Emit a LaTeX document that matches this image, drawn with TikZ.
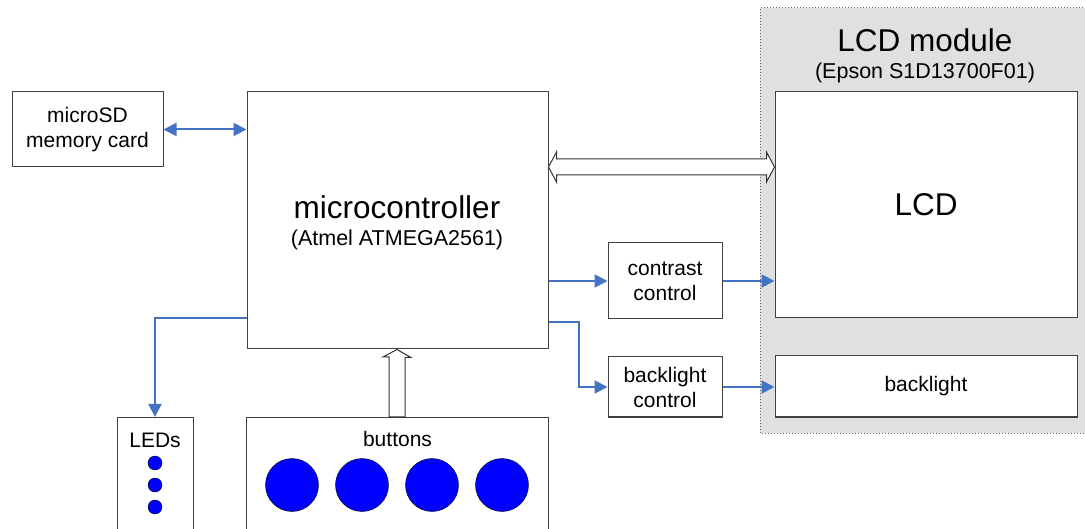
\documentclass[tikz,border=0pt]{standalone}
\usepackage{fontspec}
\setmainfont{Liberation Sans}
\usetikzlibrary{arrows.meta,calc}
\definecolor{linkblue}{RGB}{68,114,196}
\definecolor{keyblue}{RGB}{0,0,255}

\begin{document}
\begin{tikzpicture}[
            x = 1pt, y = -1pt, % one unit per pixel, y grows downwards
            > = {Triangle[length=13pt,width=13pt]}, % arrow head style
            block/.style = {draw=black!75, line width=1pt, fill=white, align=center,
                            inner sep=0pt, font=\fontsize{21}{25}\selectfont},
            big/.style = {font=\fontsize{31.5}{34}\selectfont},
            small/.style = {font=\fontsize{21.5}{24}\selectfont},
            link/.style = {draw=linkblue, line width=2pt, ->},
            hollow/.style = {draw=black!80, line width=1pt, fill=white},
            led/.style = {circle, draw=black, fill=keyblue, inner sep=0pt, minimum size=14pt},
            key/.style = {circle, draw=black, fill=keyblue, inner sep=0pt, minimum size=53pt}
        ]

	\useasboundingbox (0,0) rectangle (1085,529);

	% LCD module area
	\fill[black!12] (760,8) rectangle (1095,433);
	\draw[black!60, line width=1pt, dotted] (1095,8) -- (760,8) -- (760,433) -- (1095,433);
	\node[big] (moduletitle) at (925,40) {LCD module};
	\node[small] (modulechip) at (925,73) {(Epson S1D13700F01)};

	\node[block, minimum width=151pt, minimum height=75pt] (sd) at (87.5,129.5) {microSD\\memory card};
	\node[block, minimum width=301pt, minimum height=257pt] (mcu) at (397.5,220.5) {};
	\node[big] (mcutext) at (397,207) {microcontroller};
	\node[small] (mcuchip) at (397,240) {(Atmel ATMEGA2561)};
	\node[block, minimum width=302pt, minimum height=226pt, big] (lcd) at (926,205) {LCD};
	\node[block, minimum width=114pt, minimum height=76pt] (contrast) at (665,281) {contrast\\control};
	\node[block, minimum width=114pt, minimum height=60pt] (blctrl) at (665,387) {backlight\\control};
	\node[block, minimum width=302pt, minimum height=61pt] (backlight) at (926,386.5) {backlight};

	\node[block, minimum width=76pt, minimum height=120pt, anchor=north] (leds) at (155,417) {};
	\node[font=\fontsize{21}{25}\selectfont] (ledstext) at ($(leds.north)+(0,23)$) {LEDs};
	\foreach \i/\y in {1/463,2/485,3/507}
		\node[led] (led\i) at (155,\y) {};

	\node[block, minimum width=302pt, minimum height=120pt, anchor=north west] (buttons) at (246,417) {};
	\node[font=\fontsize{21}{25}\selectfont] (buttonstext) at ($(buttons.north)+(0,22)$) {buttons};
	\foreach \i/\x in {1/292,2/362,3/432,4/502}
		\node[key] (key\i) at (\x,485) {};

	% data bus to the LCD module
	\coordinate (busL) at (mcu.east |- 0,167);
	\coordinate (busR) at (lcd.west |- 0,167);
	\draw[hollow] (busL) -- ++(8,-15) -- ++(0,7) -- ($(busR)+(-8,-8)$) -- ++(0,-7) -- (busR)
		-- ++(-8,15) -- ++(0,-7) -- ($(busL)+(8,8)$) -- ++(0,7) -- cycle;

	% buttons to the microcontroller
	\coordinate (keysTip) at (mcu.south -| 397,0);
	\draw[hollow] (keysTip) -- ++(14,8) -- ++(-6,0) -- (405,417) -- (389,417) -- ++(0,-60) -- ++(-6,0) -- cycle;

	\draw[link, <->] (sd.east) -- (sd.east -| mcu.west);
	\draw[link] (contrast.west -| mcu.east) -- (contrast.west);
	\draw[link] (contrast.east) -- (contrast.east -| lcd.west);
	\draw[link] ($(mcu.south east)+(0,-27)$) -- ++(30,0) |- (blctrl.west);
	\draw[link] (blctrl.east) -- (blctrl.east -| backlight.west);
	\draw[link] ($(mcu.south west)+(0,-31)$) -| (leds.north);

\end{tikzpicture}
\end{document}
